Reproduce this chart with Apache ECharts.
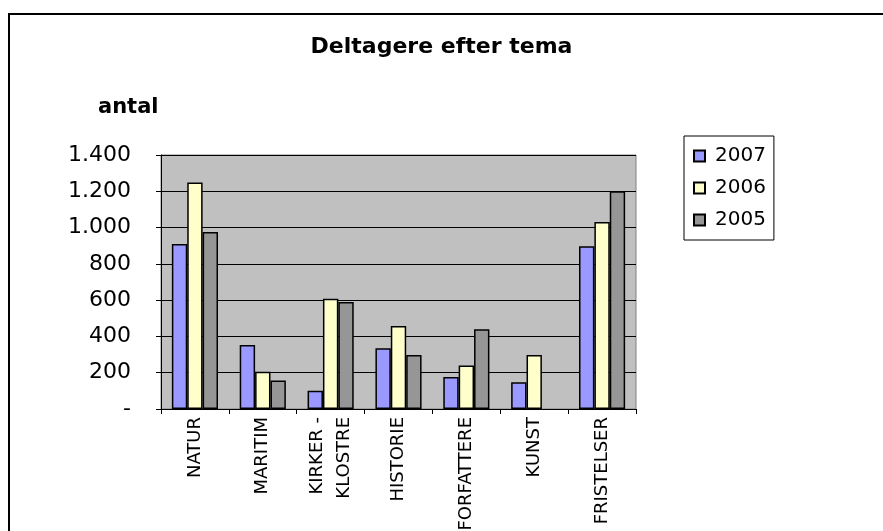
<!DOCTYPE html>
<html>
<head>
<meta charset="utf-8">
<script src="https://cdn.jsdelivr.net/npm/echarts@6/dist/echarts.min.js"></script>
<style>
  html, body { margin: 0; padding: 0; background: #fff; }
  #chart { width: 883px; height: 531px; }
</style>
</head>
<body>
<div id="chart"></div>
<script>
// temaer og deltagere pr. år
const categories = ['NATUR', 'MARITIM', 'KIRKER -\nKLOSTRE', 'HISTORIE', 'FORFATTERE', 'KUNST', 'FRISTELSER']
const years = ['2007', '2006', '2005']
const data2007 = [910, 353, 101, 335, 176, 148, 897]
const data2006 = [1248, 205, 608, 458, 240, 297, 1031]
const data2005 = [975, 157, 590, 297, 440, null, 1200] // ingen KUNST i 2005
const colors = ['#9999FF', '#FFFFCC', '#969696']

const font = 'DejaVu Sans'
const chart = echarts.init(document.getElementById('chart'))

const fmt = (v) => {
  if (v === 0) return '-'
  return String(v).replace(/\B(?=(\d{3})+(?!\d))/g, '.')
}

const makeSeries = (name, data, i) => ({
  name: name,
  type: 'bar',
  data: data,
  barGap: '0%',
  barCategoryGap: '32%',
  itemStyle: {
    color: colors[i],
    borderColor: '#000',
    borderWidth: 1.5,
  },
  emphasis: { disabled: true },
})

chart.setOption({
  animation: false,
  backgroundColor: '#fff',
  title: {
    text: 'Deltagere efter tema',
    left: 'center',
    top: 31,
    textStyle: { fontFamily: font, fontSize: 22, fontWeight: 'bold', color: '#000' },
  },
  graphic: [
    {
      type: 'rect',
      shape: { x: 9, y: 14, width: 900, height: 600 },
      style: { fill: 'none', stroke: '#000', lineWidth: 2 },
      silent: true,
    },
    {
      type: 'text',
      left: 98,
      top: 97,
      style: { text: 'antal', fontFamily: font, fontSize: 21, fontWeight: 'bold', fill: '#000' },
    },
  ],
  legend: {
    orient: 'vertical',
    left: 684,
    top: 136,
    data: years,
    icon: 'rect',
    itemWidth: 11,
    itemHeight: 11,
    itemGap: 12,
    padding: [10, 8, 10, 9],
    borderColor: '#000',
    borderWidth: 1,
    textStyle: { fontFamily: font, fontSize: 20, color: '#000', padding: [0, 0, 0, 5] },
  },
  grid: {
    left: 161,
    top: 155,
    right: 247,
    bottom: 122,
    outerBoundsMode: 'none',
    containLabel: false,
    show: true,
    backgroundColor: '#C0C0C0',
    borderColor: '#808080',
    borderWidth: 1,
  },
  xAxis: {
    type: 'category',
    data: categories,
    axisLine: { lineStyle: { color: '#000', width: 1 } },
    axisTick: { show: true, length: 5, lineStyle: { color: '#000' } },
    axisLabel: {
      rotate: 90,
      interval: 0,
      margin: 8,
      fontFamily: font,
      fontSize: 18,
      color: '#000',
      lineHeight: 27,
    },
  },
  yAxis: {
    type: 'value',
    min: 0,
    max: 1400,
    interval: 200,
    axisLine: { show: true, lineStyle: { color: '#000', width: 1 } },
    axisTick: { show: true, length: 5, lineStyle: { color: '#000' } },
    splitLine: { show: true, lineStyle: { color: '#000', width: 1 } },
    axisLabel: {
      margin: 30,
      fontFamily: font,
      fontSize: 22,
      color: '#000',
      formatter: fmt,
    },
  },
  series: [
    makeSeries(years[0], data2007, 0),
    makeSeries(years[1], data2006, 1),
    makeSeries(years[2], data2005, 2),
  ],
})
</script>
</body>
</html>
